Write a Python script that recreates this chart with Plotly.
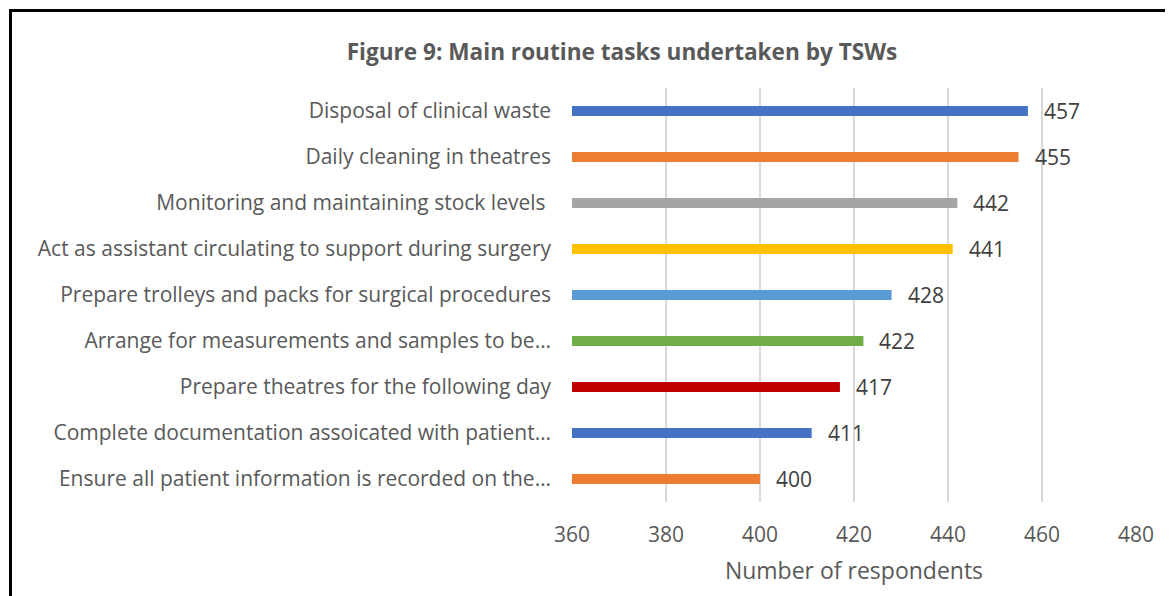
import plotly.graph_objects as go

categories = [
    "Disposal of clinical waste",
    "Daily cleaning in theatres",
    "Monitoring and maintaining stock levels\u00a0",
    "Act as assistant circulating to support during surgery",
    "Prepare trolleys and packs for surgical procedures",
    "Arrange for measurements and samples to be…",
    "Prepare theatres for the following day",
    "Complete documentation assoicated with patient…",
    "Ensure all patient information is recorded on the…",
]
values = [457, 455, 442, 441, 428, 422, 417, 411, 400]
colors = ["#4472C4", "#ED7D31", "#A5A5A5", "#FFC000", "#5B9BD5",
          "#70AD47", "#C00000", "#4472C4", "#ED7D31"]
x_ticks = [360, 380, 400, 420, 440, 460, 480]

FONT = "Open Sans, sans-serif"

W, H = 1165, 588
L, R, T, B = 564, 37, 80, 94
PW, PH = W - L - R, H - T - B

fig = go.Figure()
fig.add_trace(go.Bar(
    y=categories, x=[v - 360 for v in values], base=360,
    orientation="h", marker=dict(color=colors, line=dict(width=0)),
    width=0.22, hoverinfo="skip",
))
for c, v in zip(categories, values):
    fig.add_annotation(x=v, y=c, text=str(v), showarrow=False,
                       xanchor="left", xshift=14,
                       font=dict(family=FONT, size=21, color="#404040"))

fig.update_layout(
    width=W, height=H,
    margin=dict(l=L, r=R, t=T, b=B, autoexpand=False),
    paper_bgcolor="white", plot_bgcolor="white",
    showlegend=False,
    font=dict(family=FONT, color="#595959", size=21),
    title=dict(text="<b>Figure 9: Main routine tasks undertaken by TSWs</b>",
               x=614 / W, xanchor="center", y=1 - 44.5 / H, yanchor="middle",
               font=dict(family=FONT, size=22.6, color="#595959")),
    xaxis=dict(range=[360, 480], tickvals=x_ticks, showgrid=True,
               gridcolor="#D9D9D9", gridwidth=2, zeroline=False,
               showline=False, ticks="", ticklabelstandoff=18,
               tickfont=dict(size=21, color="#595959"),
               title=dict(text="Number of respondents", standoff=15,
                          font=dict(size=23, color="#595959"))),
    yaxis=dict(autorange="reversed", showgrid=False, zeroline=False,
               showline=False, ticks="", ticklabelstandoff=20,
               tickfont=dict(size=21, color="#595959")),
    shapes=[dict(type="rect", xref="paper", yref="paper",
                 x0=(2.5 - L) / PW, x1=(W + 20 - L) / PW,
                 y0=-(B + 20) / PH, y1=1 + (T - 2.5) / PH,
                 line=dict(color="black", width=3), layer="above")],
)
fig.write_html("out.html")
